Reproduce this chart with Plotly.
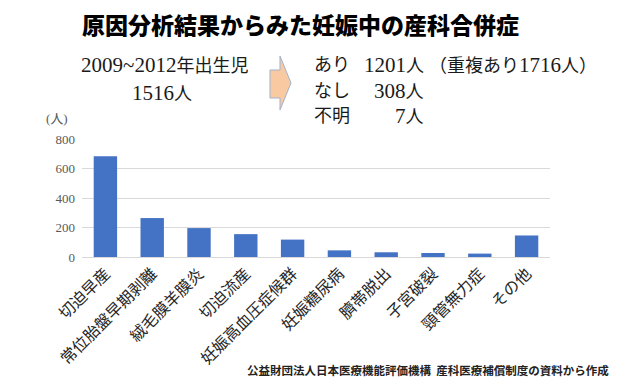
import plotly.graph_objects as go

categories = ["切迫早産", "常位胎盤早期剥離", "絨毛膜羊膜炎", "切迫流産", "妊娠高血圧症候群",
              "妊娠糖尿病", "臍帯脱出", "子宮破裂", "頸管無力症", "その他"]
counts = [683, 264, 196, 155, 118, 45, 32, 27, 23, 146]
y_ticks = [0, 200, 400, 600, 800]

OFF = 8  # default page body margin
W, H = 640 - OFF, 391 - OFF
L, R, T, B = 82 - OFF, 90, 139 - OFF, 134
PW, PH = W - L - R, H - T - B


def px(x):
    return (x - OFF - L) / PW


def py(y):
    return (H - B - (y - OFF)) / PH


SERIF = "Liberation Serif, Noto Sans CJK JP, serif"
SANS = "Noto Sans CJK JP, sans-serif"


def mix(text, dsize, csize):
    out = ""
    for ch in text:
        if ord(ch) < 128:
            out += f'<span style="font-size:{dsize}px">{ch}</span>'
        else:
            out += f'<span style="font-size:{csize}px">{ch}</span>'
    return out


fig = go.Figure(go.Bar(x=categories, y=counts, marker=dict(color="#4472C4", line=dict(width=0))))

ann = []


def add(text, x, y, xanchor="left", size=18, family=SERIF, color="#1a1a1a", weight=None):
    f = dict(size=size, family=family, color=color)
    if weight:
        f["weight"] = weight
    ann.append(dict(text=text, x=px(x), y=py(y), xref="paper", yref="paper", xanchor=xanchor,
                    yanchor="middle", showarrow=False, font=f))


add("原因分析結果からみた妊娠中の産科合併症", 300, 24, xanchor="center", size=23, family=SANS,
    color="#000000", weight=900)
add(mix("2009~2012年出生児", 21, 18), 164, 65, xanchor="center", size=18)
add(mix("1516人", 21, 18), 162, 93, xanchor="center", size=18)
add("あり", 312, 65, size=18)
add("なし", 312, 91, size=18)
add("不明", 312, 116, size=18)
add(mix("1201人", 21, 18), 426, 65, xanchor="right", size=18)
add(mix("308人", 21, 18), 426, 91, xanchor="right", size=18)
add(mix("7人", 21, 18), 426, 116, xanchor="right", size=18)
add(mix("（重複あり1716人）", 21, 18), 427, 65, size=18)
add("(人)", 57, 118, xanchor="center", size=13, family=SERIF, color="#595959")
add("公益財団法人日本医療機能評価機構  産科医療補償制度の資料から作成", 428, 370,
    xanchor="center", size=11.5, family=SANS, color="#222222", weight=600)

arrow = [(270, 70), (280, 70), (280, 56), (291, 83), (280, 110), (280, 98), (270, 98)]
path = "M " + " L ".join(f"{px(a)},{py(b)}" for a, b in arrow) + " Z"

fig.update_layout(
    width=W, height=H,
    margin=dict(l=L, r=R, t=T, b=B, autoexpand=False),
    plot_bgcolor="white", paper_bgcolor="white",
    showlegend=False, bargap=0.5,
    annotations=ann,
    shapes=[dict(type="path", path=path, xref="paper", yref="paper",
                 fillcolor="#F9C9A2", line=dict(color="#9DB3CF", width=1))],
    xaxis=dict(tickangle=-45, tickfont=dict(size=16, family=SANS, color="#262626"),
               showline=True, linecolor="#D9D9D9", linewidth=1, ticks="", automargin=False,
               showgrid=False),
    yaxis=dict(range=[0, 800], tickvals=y_ticks, ticktext=[str(v) for v in y_ticks],
               tickfont=dict(size=13, family=SERIF, color="#595959"),
               gridcolor="#D9D9D9", gridwidth=1, zeroline=False, showline=False,
               ticks="", automargin=False, ticklabelstandoff=6),
)

fig.write_html("out.html")
